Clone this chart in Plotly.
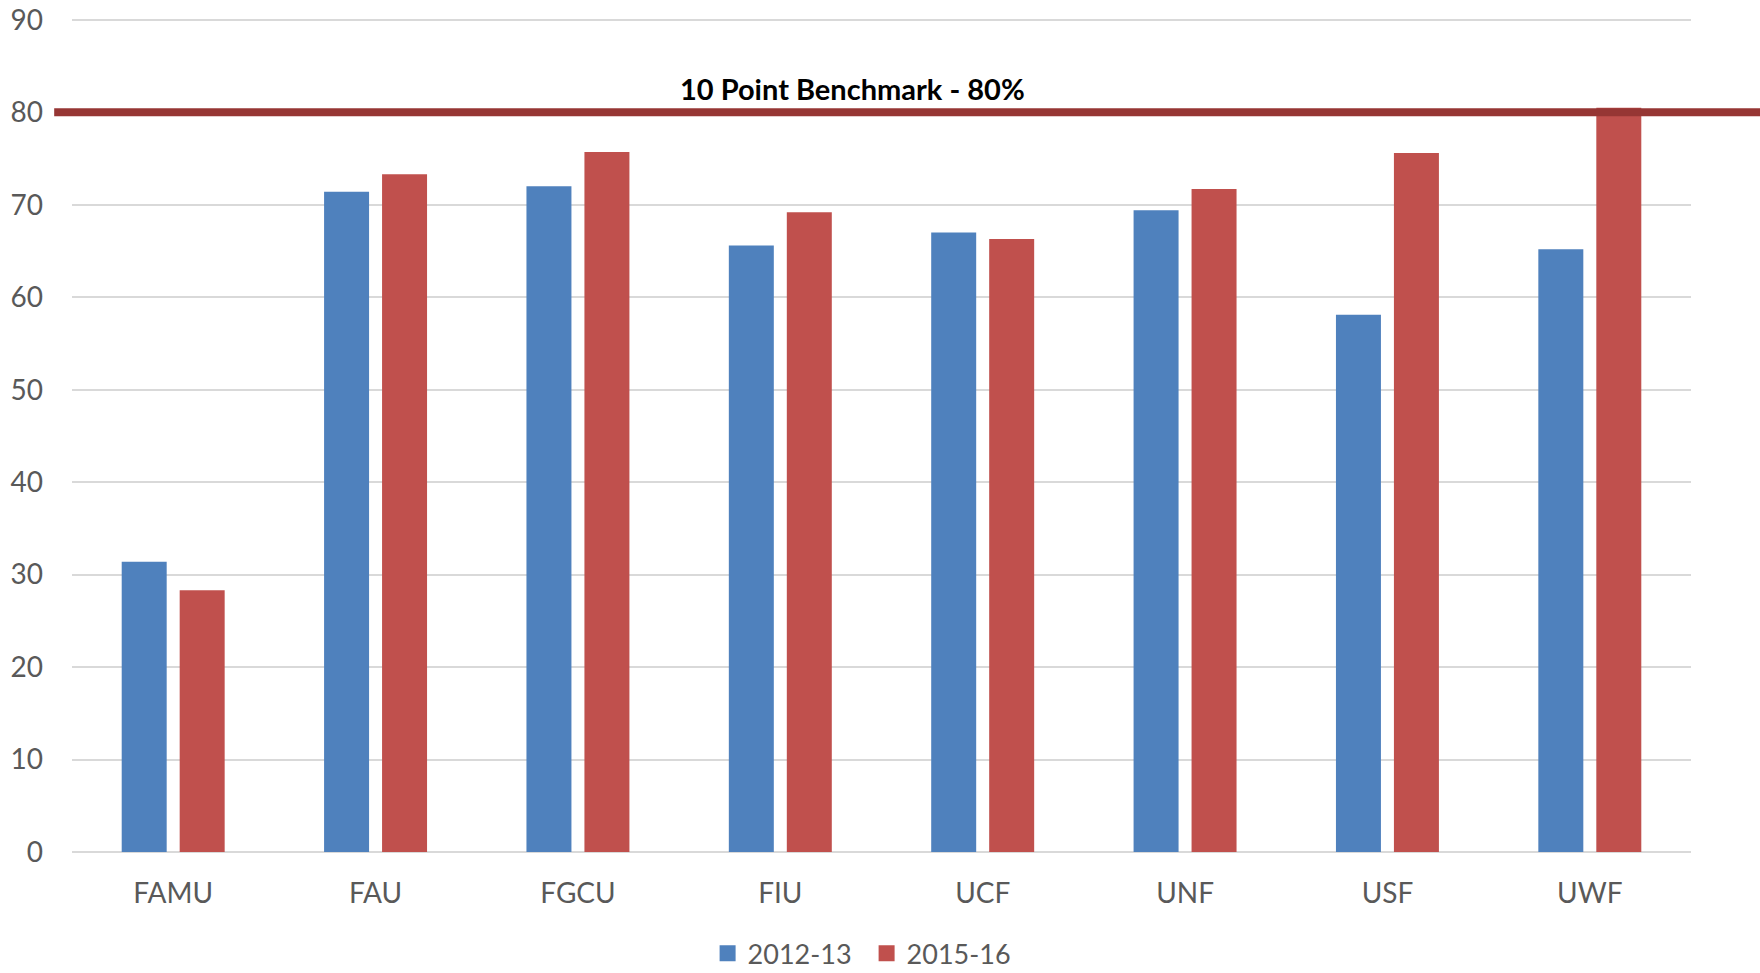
import plotly.graph_objects as go

categories = ["FAMU", "FAU", "FGCU", "FIU", "UCF", "UNF", "USF", "UWF"]
series_names = ["2012-13", "2015-16"]
values_2012 = [31.4, 71.4, 72.0, 65.6, 67.0, 69.4, 58.1, 65.2]
values_2015 = [28.3, 73.3, 75.7, 69.2, 66.3, 71.7, 75.6, 80.5]
benchmark = 80
benchmark_label = "10 Point Benchmark - 80%"
y_ticks = [0, 10, 20, 30, 40, 50, 60, 70, 80, 90]

colors = ["#4F81BD", "#C0504D"]
font_family = "Lato, 'Open Sans', sans-serif"
gray = "#595959"

fig = go.Figure()
for name, vals, col in zip(series_names, [values_2012, values_2015], colors):
    fig.add_trace(go.Bar(x=categories, y=vals, name=name, marker=dict(color=col, line=dict(width=0)),
                         showlegend=False))
    fig.add_trace(go.Scatter(x=[None], y=[None], mode="markers", name=name,
                             marker=dict(symbol="square", size=18, color=col)))

fig.add_shape(type="line", xref="paper", yref="y", x0=-0.011, x1=1.06, y0=benchmark, y1=benchmark,
              line=dict(color="#963634", width=8), layer="above")
fig.add_annotation(text="<b>" + benchmark_label + "</b>", xref="paper", yref="y", x=0.482, y=benchmark,
                   yanchor="bottom", yshift=4, showarrow=False,
                   font=dict(family=font_family, size=29, color="#000000"))

fig.update_layout(
    width=1760, height=973,
    margin=dict(l=72, r=69, t=18, b=121, autoexpand=False),
    plot_bgcolor="white", paper_bgcolor="white",
    barmode="group", bargap=0.427, bargroupgap=0.224,
    font=dict(family=font_family, size=28, color=gray),
    legend=dict(orientation="h", x=0.4908, xanchor="center", y=-0.122, yanchor="middle",
                font=dict(size=27, color=gray), itemsizing="trace", tracegroupgap=0,
                entrywidth=114, entrywidthmode="pixels"),
    xaxis=dict(showgrid=False, ticks="", showline=False, ticklabelstandoff=22,
               tickfont=dict(size=28, color=gray)),
    yaxis=dict(range=[0, 90.2], tickvals=y_ticks, showgrid=True, gridcolor="#D9D9D9", gridwidth=1.5,
               zeroline=True, zerolinecolor="#D9D9D9", zerolinewidth=1.5, showline=False,
               ticks="", ticklabelstandoff=28, ticklabeloverflow="allow",
               tickfont=dict(size=28, color=gray)),
)

fig.write_html("out.html", config={"displayModeBar": False},
               post_script="document.body.style.margin='0';")
